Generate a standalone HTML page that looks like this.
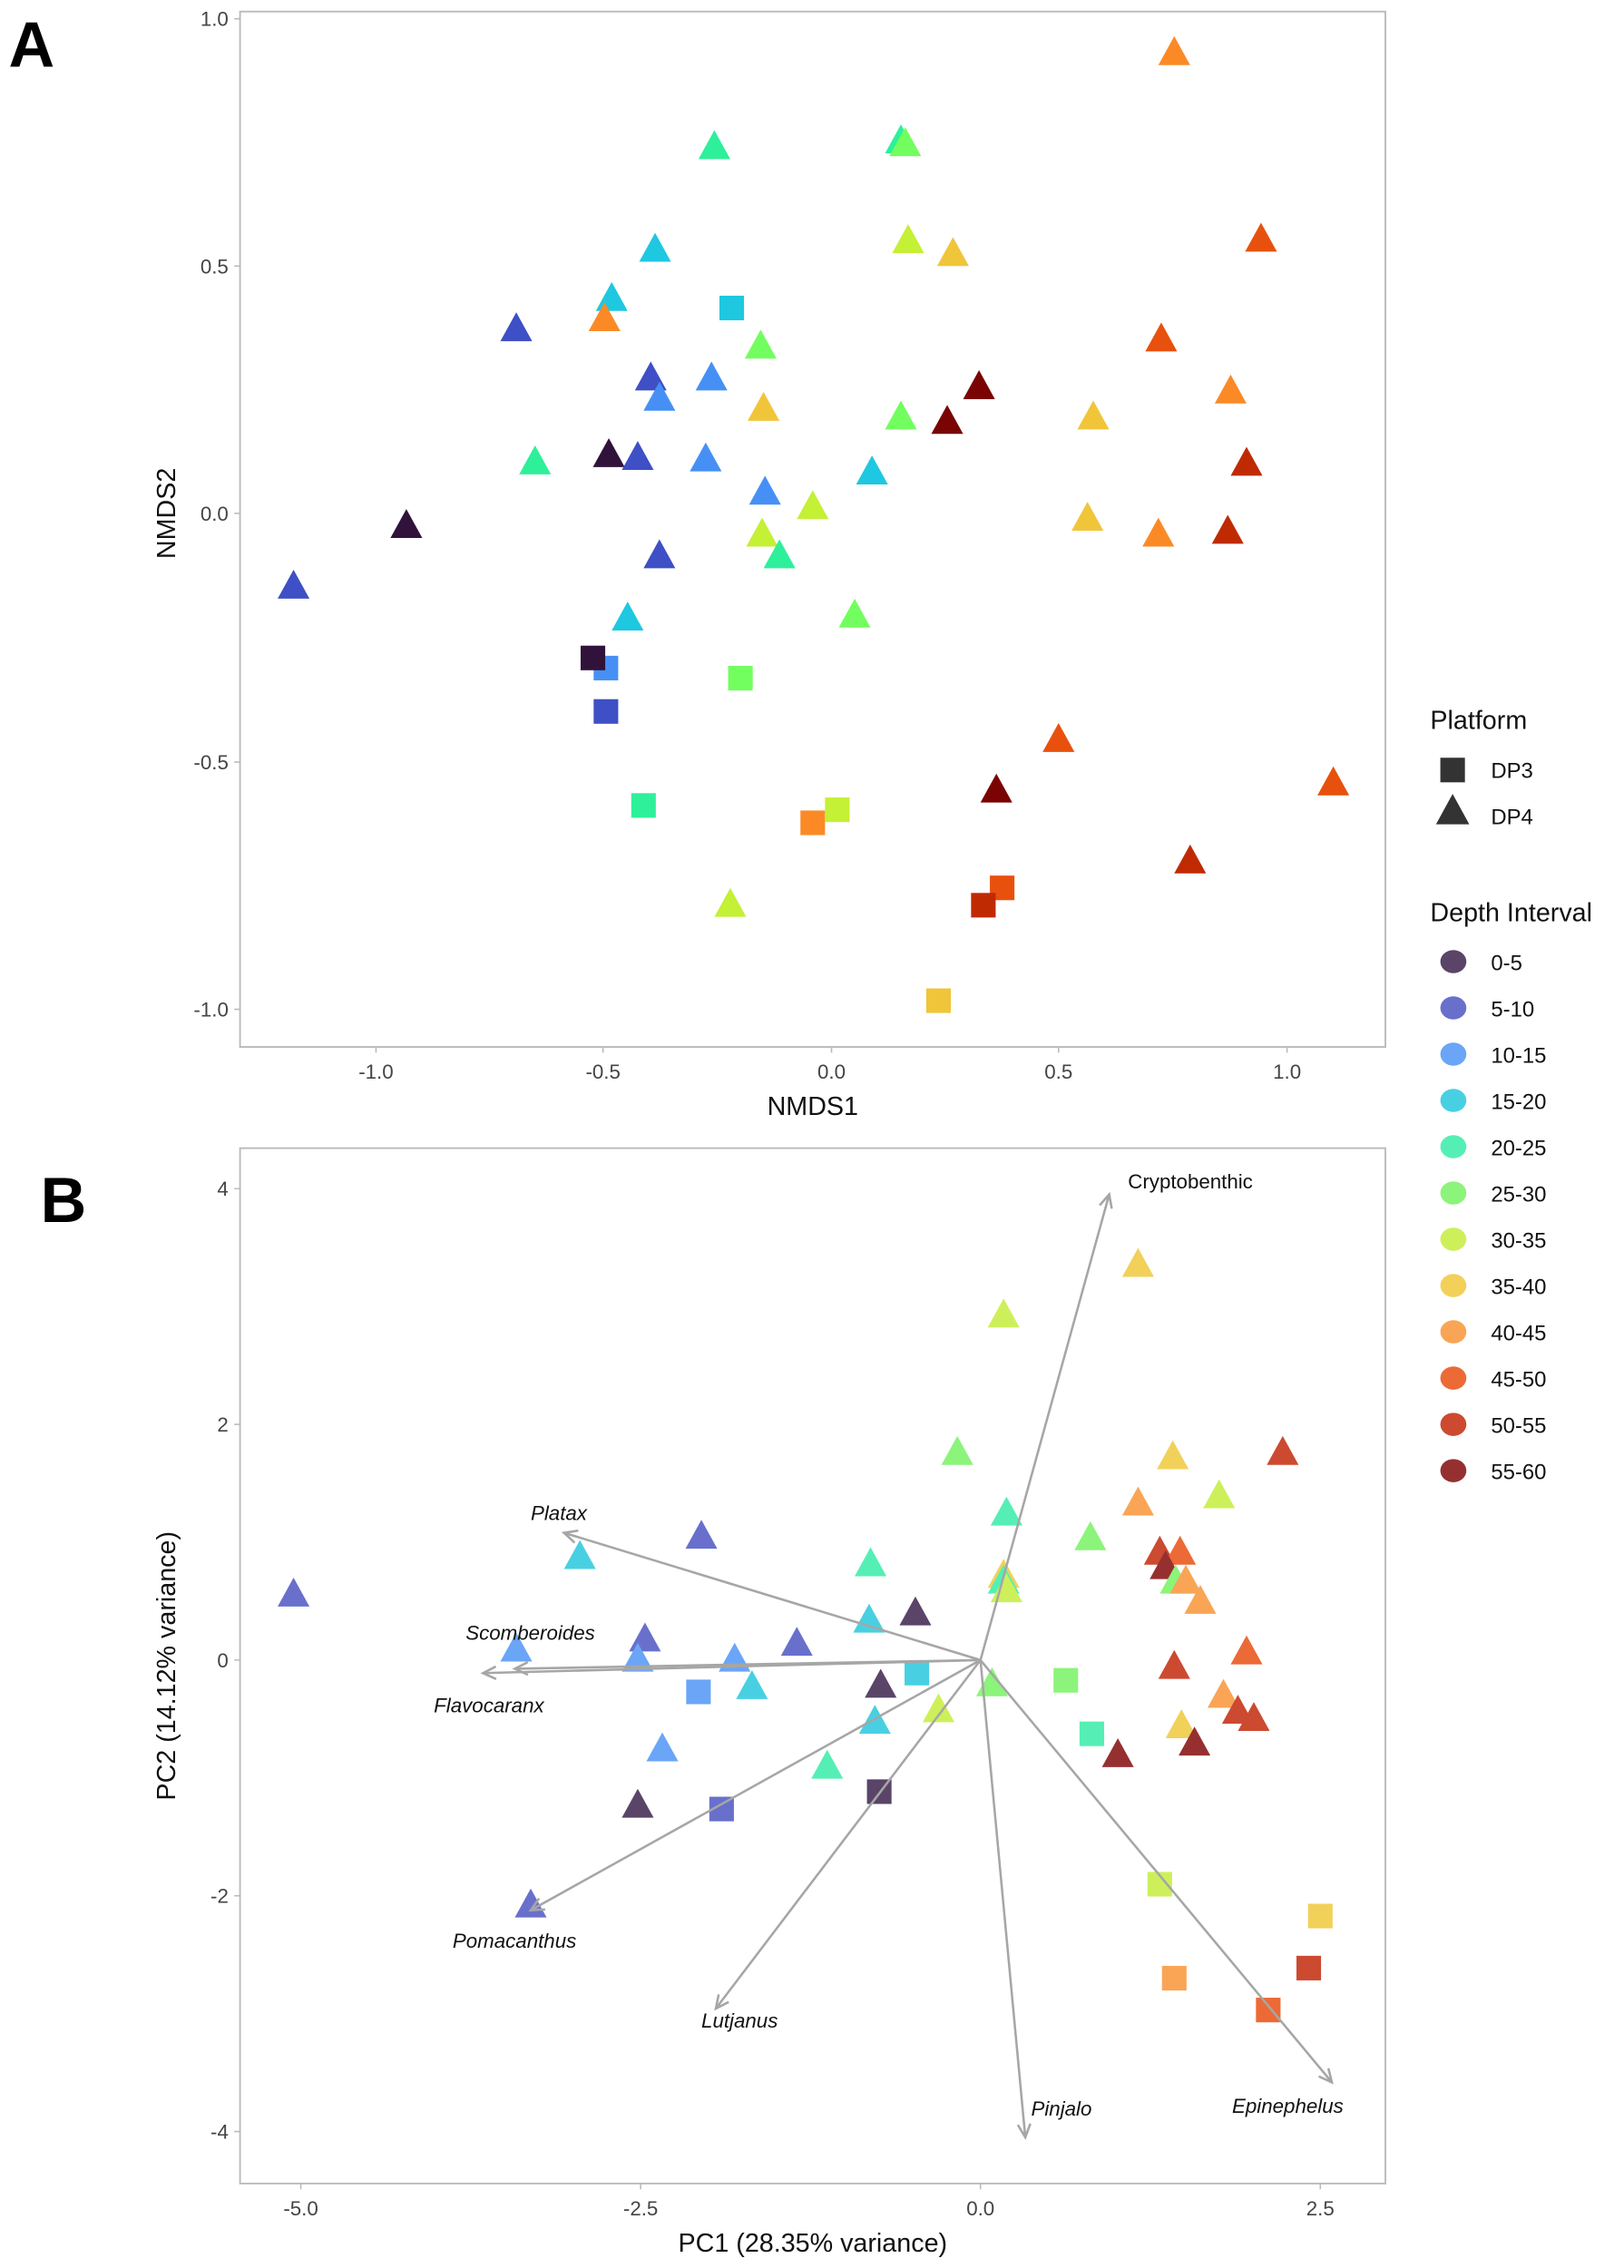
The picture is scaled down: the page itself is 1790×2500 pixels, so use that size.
<!DOCTYPE html>
<html><head><meta charset="utf-8"><style>html,body{margin:0;padding:0;background:#fff}svg{display:block}</style></head>
<body>
<svg id="s" width="1790" height="2500" viewBox="0 0 1123 1568.4" preserveAspectRatio="none" xmlns="http://www.w3.org/2000/svg" font-family="Liberation Sans, sans-serif">
<rect width="1130" height="1579" fill="#fff"/>
<text x="6" y="46" font-size="44" font-weight="bold" fill="#000">A</text>
<text x="28" y="845" font-size="44" font-weight="bold" fill="#000">B</text>
<rect x="166" y="8" width="792" height="716" fill="none" stroke="#bbb" stroke-width="1.2"/>
<rect x="166" y="794" width="792" height="716" fill="none" stroke="#bbb" stroke-width="1.2"/>
<g font-size="14" fill="#444" text-anchor="end">
<text x="158" y="18">1.0</text><text x="158" y="189">0.5</text><text x="158" y="360">0.0</text><text x="158" y="532">-0.5</text><text x="158" y="703">-1.0</text>
<text x="158" y="827">4</text><text x="158" y="990">2</text><text x="158" y="1153">0</text><text x="158" y="1316">-2</text><text x="158" y="1479">-4</text>
</g>
<g font-size="14" fill="#444" text-anchor="middle">
<text x="260" y="746">-1.0</text><text x="417" y="746">-0.5</text><text x="575" y="746">0.0</text><text x="732" y="746">0.5</text><text x="890" y="746">1.0</text>
<text x="208" y="1532">-5.0</text><text x="443" y="1532">-2.5</text><text x="678" y="1532">0.0</text><text x="913" y="1532">2.5</text>
</g>
<g stroke="#bbb" stroke-width="1">
<path d="M162 13H166M162 184H166M162 355H166M162 527H166M162 698H166M260 724V728M417 724V728M575 724V728M732 724V728M890 724V728"/>
<path d="M162 822H166M162 985H166M162 1148H166M162 1311H166M162 1474H166M208 1510V1514M443 1510V1514M678 1510V1514M913 1510V1514"/>
</g>
<g font-size="18" fill="#111" text-anchor="middle">
<text x="562" y="771">NMDS1</text>
<text x="562" y="1557">PC1 (28.35% variance)</text>
<text transform="translate(121,355) rotate(-90)">NMDS2</text>
<text transform="translate(121,1152) rotate(-90)">PC2 (14.12% variance)</text>
</g>
<g id="pts"></g>
<g stroke="#a6a6a6" stroke-width="1.6" fill="none" id="arr"></g>
<g font-size="14" font-style="italic" fill="#111">
<text x="780" y="822" font-style="normal">Cryptobenthic</text>
<text x="367" y="1051">Platax</text>
<text x="322" y="1134">Scomberoides</text>
<text x="300" y="1184">Flavocaranx</text>
<text x="313" y="1347">Pomacanthus</text>
<text x="485" y="1402">Lutjanus</text>
<text x="713" y="1463">Pinjalo</text>
<text x="852" y="1461">Epinephelus</text>
</g>
<g font-size="18" fill="#111"><text x="989" y="504">Platform</text><text x="989" y="637">Depth Interval</text></g>
<g font-size="15" fill="#111" id="leg">
<text x="1031" y="538">DP3</text><text x="1031" y="570">DP4</text>
<text x="1031" y="671">0-5</text><text x="1031" y="703">5-10</text><text x="1031" y="735">10-15</text><text x="1031" y="767">15-20</text><text x="1031" y="799">20-25</text><text x="1031" y="831">25-30</text><text x="1031" y="863">30-35</text><text x="1031" y="895">35-40</text><text x="1031" y="927">40-45</text><text x="1031" y="959">45-50</text><text x="1031" y="991">50-55</text><text x="1031" y="1023">55-60</text>
</g>
<rect x="996" y="524" width="17" height="17" fill="#333"/>
<polygon points="1004.5,549 1016,570 993,570" fill="#333"/>
</svg>
<script>
var A=["#30123b","#3f4fc5","#4690f5","#1ec8e0","#2ef09a","#72fe5e","#c4f035","#f0c53a","#fb8a26","#e8510d","#c02a03","#7a0403"];
var B=["#5a4468","#6870cc","#6aa5f7","#48d0e2","#55efb5","#8cf47a","#cdf05a","#f2d15a","#f9a555","#ec6a36","#cc4a30","#963030"];
var tA=[[812,37,8],[494,102,4],[623,98,4],[626,100,5],[453,173,3],[628,167,6],[659,176,7],[872,166,9],[423,207,3],[418,221,8],[357,228,1],[526,240,5],[803,235,9],[450,262,1],[492,262,2],[456,276,2],[528,283,7],[851,271,8],[677,268,11],[655,292,11],[623,289,5],[756,289,7],[370,320,4],[421,315,0],[441,317,1],[488,318,2],[603,327,3],[862,321,10],[529,341,2],[562,351,6],[281,364,0],[752,359,7],[527,370,6],[539,385,4],[801,370,8],[849,368,10],[456,385,1],[203,406,1],[434,428,3],[591,426,5],[732,512,9],[922,542,9],[689,547,11],[823,596,10],[505,626,6]];
var sA=[[506,213,3],[419,462,2],[410,455,0],[419,492,1],[512,469,5],[445,557,4],[562,569,8],[579,560,6],[693,614,9],[680,626,10],[649,692,7]];
var tB=[[203,1103,1],[787,875,7],[694,910,6],[662,1005,5],[887,1005,10],[811,1008,7],[843,1035,6],[787,1040,8],[485,1063,1],[696,1047,4],[754,1064,5],[401,1077,3],[602,1082,4],[802,1074,10],[816,1074,9],[806,1084,11],[813,1094,5],[820,1094,8],[694,1090,7],[694,1094,4],[696,1100,6],[830,1108,8],[633,1116,0],[601,1121,3],[357,1141,2],[446,1134,1],[551,1137,1],[441,1148,2],[508,1148,2],[862,1143,9],[812,1153,10],[609,1166,0],[686,1165,5],[520,1167,3],[846,1173,8],[856,1184,10],[867,1189,10],[649,1183,6],[817,1194,7],[605,1191,3],[826,1206,11],[458,1210,2],[773,1214,11],[572,1222,4],[441,1249,0],[367,1318,1]];
var sB=[[634,1157,3],[737,1162,5],[483,1170,2],[755,1199,4],[608,1239,0],[499,1251,1],[802,1303,6],[913,1325,7],[905,1361,10],[812,1368,8],[877,1390,9]];
var ns="http://www.w3.org/2000/svg",g=document.getElementById("pts");
function el(n,a){var e=document.createElementNS(ns,n);for(var k in a)e.setAttribute(k,a[k]);return e}
function tri(p,c){var x=p[0],y=p[1];g.appendChild(el("polygon",{points:(x)+","+(y-12)+" "+(x+11)+","+(y+8)+" "+(x-11)+","+(y+8),fill:c[p[2]]}))}
function sq(p,c){g.appendChild(el("rect",{x:p[0]-8.5,y:p[1]-8.5,width:17,height:17,fill:c[p[2]]}))}
sA.forEach(function(p){sq(p,A)});tA.forEach(function(p){tri(p,A)});
sB.forEach(function(p){sq(p,B)});tB.forEach(function(p){tri(p,B)});
var ar=document.getElementById("arr"),o=[678,1148];
[[767,826],[390,1060],[356,1154],[334,1157],[367,1321],[495,1389],[709,1478],[921,1440]].forEach(function(t){
 ar.appendChild(el("line",{x1:o[0],y1:o[1],x2:t[0],y2:t[1]}));
 var a=Math.atan2(t[1]-o[1],t[0]-o[0]),L=10,s=0.45;
 ar.appendChild(el("path",{d:"M"+(t[0]-L*Math.cos(a-s))+" "+(t[1]-L*Math.sin(a-s))+"L"+t[0]+" "+t[1]+"L"+(t[0]-L*Math.cos(a+s))+" "+(t[1]-L*Math.sin(a+s))}));
});
var lg=document.getElementById("s");
B.forEach(function(c,i){lg.appendChild(el("ellipse",{cx:1005,cy:665+32*i,rx:9,ry:8,fill:c}))});
</script>
</body></html>
